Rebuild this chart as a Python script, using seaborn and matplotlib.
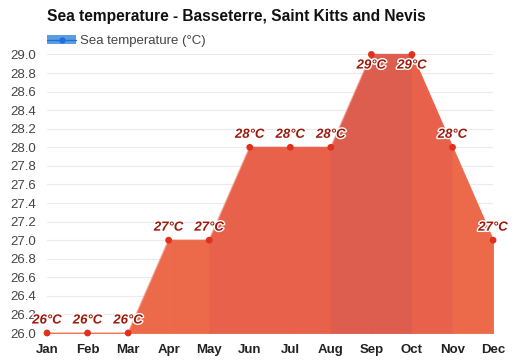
import numpy as np
import pandas as pd
import seaborn as sns
import matplotlib.pyplot as plt
import matplotlib.patheffects as pe
from matplotlib.lines import Line2D
from matplotlib.patches import Patch

months = ['Jan', 'Feb', 'Mar', 'Apr', 'May', 'Jun', 'Jul', 'Aug', 'Sep', 'Oct', 'Nov', 'Dec']
sea_temp = [26, 26, 26, 27, 27, 28, 28, 28, 29, 29, 28, 27]
yticks = [26.0, 26.2, 26.4, 26.6, 26.8, 27.0, 27.2, 27.4, 27.6, 27.8,
          28.0, 28.2, 28.4, 28.6, 28.8, 29.0]

# kleur per segment, afhankelijk van de waarde rechts
seg_colors = {26: '#ee6e4c', 27: '#ec6a4a', 28: '#e8614a', 29: '#dd5d4e'}

df = pd.DataFrame({'x': range(len(months)), 'month': months, 'temp': sea_temp})

sns.set_style('white')
plt.rcParams['font.family'] = ['Liberation Sans', 'DejaVu Sans']

fig = plt.figure(figsize=(5.19, 3.63), dpi=100)
ax = fig.add_axes([0.0906, 0.0826, 0.8594, 0.7674])

for i in range(len(df) - 1):
    xs = df['x'].iloc[i:i + 2]
    ys = df['temp'].iloc[i:i + 2]
    c = seg_colors[sea_temp[i + 1]]
    ax.fill_between(xs, ys, 26.0, facecolor=c, edgecolor=c, lw=0.6, zorder=3)

sns.lineplot(data=df, x='x', y='temp', color='#f6ad9f', lw=1.2, ax=ax, zorder=2, clip_on=False)
sns.scatterplot(data=df, x='x', y='temp', color='#e0301e', s=24, edgecolor='none',
                ax=ax, zorder=4, clip_on=False)

for i, row in df.iterrows():
    below = row['temp'] == max(sea_temp)
    ax.annotate(f"{row['temp']}°C", (row['x'], row['temp']),
                xytext=(0, -8 if below else 9), textcoords='offset points',
                ha='center', va='center', fontsize=9.5, fontweight='bold',
                fontstyle='italic', color='#9c1a0c', zorder=5,
                path_effects=[pe.withStroke(linewidth=2, foreground='white')])

ax.set_xlim(0, 11)
ax.set_ylim(26.0, 29.0)
ax.set_xticks(df['x'])
ax.set_xticklabels(months, fontweight='bold', fontsize=9.5, color='#222222')
ax.set_yticks(yticks)
ax.set_yticklabels([f'{t:.1f}' for t in yticks], fontsize=9.5, color='#444444')
ax.tick_params(axis='x', length=0, pad=8)
ax.tick_params(axis='y', length=0, pad=8)
ax.grid(axis='y', color='#ece8f0', lw=0.8)
ax.set_axisbelow(True)
for s in ax.spines.values():
    s.set_visible(False)
ax.set_xlabel('')
ax.set_ylabel('')

fig.text(0.0906, 0.955, 'Sea temperature - Basseterre, Saint Kitts and Nevis',
         fontsize=11.2, fontweight='bold', color='#111111', va='center')

handle = (Patch(facecolor='#5b9de0', edgecolor='none'),
          Line2D([0], [0], color='#1f6fd6', marker='o', markersize=3.5, lw=1))
leg = ax.legend([handle], ['Sea temperature (°C)'], loc='lower left',
                bbox_to_anchor=(0.0, 1.025), frameon=False, fontsize=9.5,
                handlelength=2.2, handletextpad=0.3, borderaxespad=0, borderpad=0)
for t in leg.get_texts():
    t.set_color('#444444')

fig.savefig('out.png', dpi=100)
